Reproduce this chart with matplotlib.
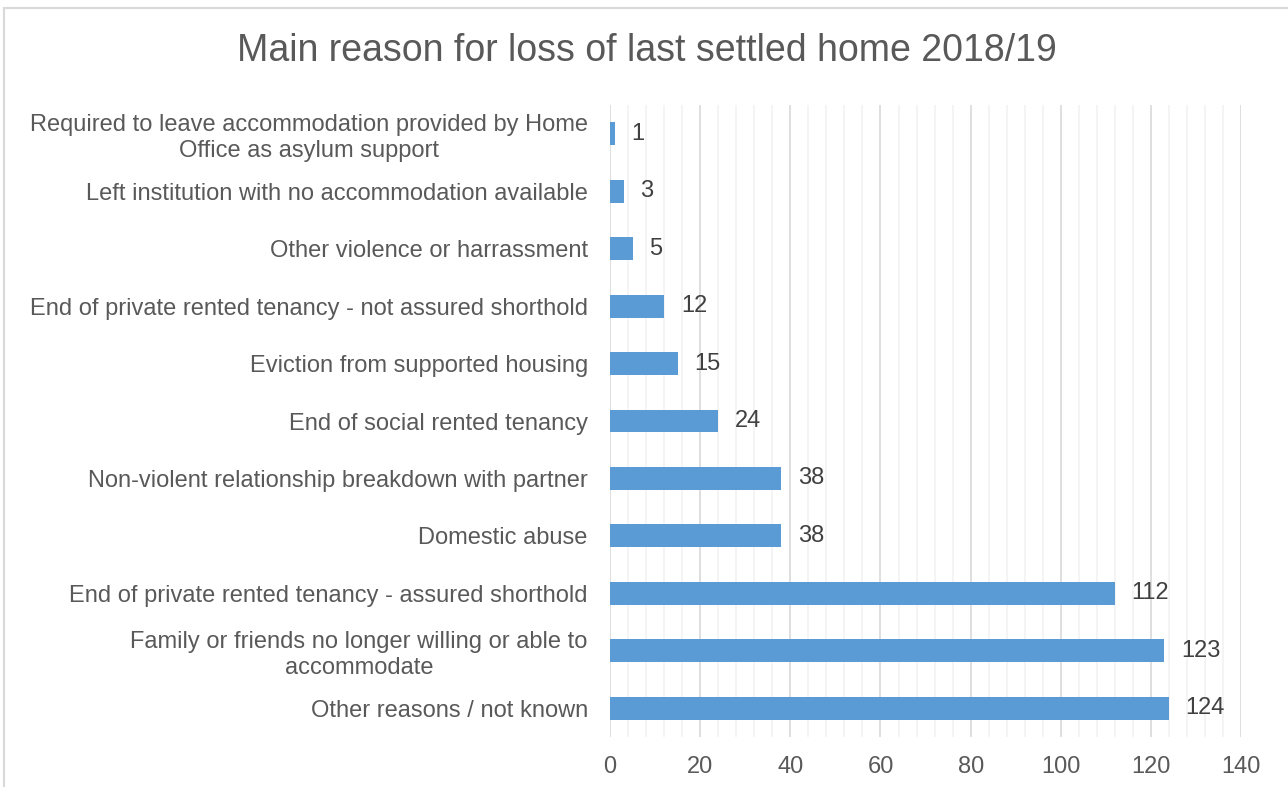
import matplotlib.pyplot as plt
from matplotlib.patches import Rectangle
from matplotlib.ticker import MultipleLocator

plt.rcParams['font.family'] = ['Liberation Sans', 'DejaVu Sans']

reasons = [
    'Required to leave accommodation provided by Home\nOffice as asylum support',
    'Left institution with no accommodation available',
    'Other violence or harrassment',
    'End of private rented tenancy - not assured shorthold',
    'Eviction from supported housing',
    'End of social rented tenancy',
    'Non-violent relationship breakdown with partner',
    'Domestic abuse',
    'End of private rented tenancy - assured shorthold',
    'Family or friends no longer willing or able to\naccommodate',
    'Other reasons / not known',
]
counts = [1, 3, 5, 12, 15, 24, 38, 38, 112, 123, 124]
xticks = [0, 20, 40, 60, 80, 100, 120, 140]

fig = plt.figure(figsize=(12.88, 7.87), dpi=100)
ax = fig.add_axes([0.4736, 0.0635, 0.49, 0.8031])

# light frame around the chart area
fig.patches.append(Rectangle((4 / 1288, -0.05), 1.1, 1 - 8 / 787 + 0.05,
                             transform=fig.transFigure, fill=False,
                             edgecolor='#D9D9D9', linewidth=1.5))

pos = range(len(reasons))
bars = ax.barh(pos, counts, height=0.4, color='#5B9BD5', zorder=3)
for b, v in zip(bars, counts):
    ax.annotate(str(v), (b.get_width(), b.get_y() + b.get_height() / 2),
                xytext=(12, 0), textcoords='offset points',
                va='center', ha='left', fontsize=17, color='#404040')

ax.set_yticks(list(pos))
ax.set_yticklabels(reasons, multialignment='center')
ax.set_ylim(len(reasons) - 0.5, -0.5)
ax.set_xlim(0, 140)
ax.set_xticks(xticks)
ax.xaxis.set_minor_locator(MultipleLocator(4))

ax.grid(axis='x', which='major', color='#D9D9D9', linewidth=1.2, zorder=0)
ax.grid(axis='x', which='minor', color='#F2F2F2', linewidth=1.2, zorder=0)
ax.tick_params(axis='both', which='both', length=0, labelsize=17,
               labelcolor='#595959')
ax.tick_params(axis='y', pad=16)
ax.tick_params(axis='x', pad=14)
for s in ax.spines.values():
    s.set_visible(False)

fig.text(647 / 1288, 1 - 51 / 787, 'Main reason for loss of last settled home 2018/19',
         ha='center', va='center', fontsize=27, color='#595959')

fig.savefig('out.png', dpi=100)
